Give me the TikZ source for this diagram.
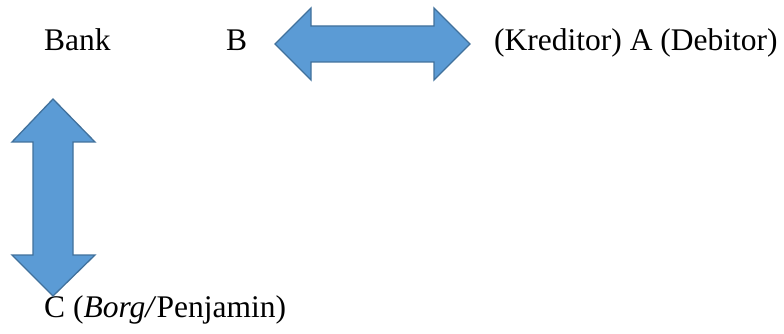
\documentclass[tikz,border=0pt]{standalone}
\usepackage{fontspec}
\setmainfont{Liberation Serif}
\definecolor{arrfill}{HTML}{5B9BD5}
\definecolor{arrline}{HTML}{41719C}
\begin{document}
\begin{tikzpicture}[x=1pt,y=-1pt,
  bigarrow/.style={fill=arrfill,draw=arrline,line width=1.3pt,line join=miter},
  lbl/.style={anchor=base west,inner sep=0pt,font=\fontsize{31.5}{37}\selectfont}]
\useasboundingbox (0,0) rectangle (784,334);
\node[lbl] (bank) at (44,51) {Bank};
\node[lbl] (b) at (226,51) {B};
\node[lbl] (a) at (494,51) {(Kreditor) A (Debitor)};
\node[lbl] (c) at (44,317) {C (\textit{Borg/}Penjamin)};
\draw[bigarrow] (275,44) -- (311,8) -- (311,26) -- (434,26) -- (434,8) -- (470,44)
  -- (434,80) -- (434,62) -- (311,62) -- (311,80) -- cycle;
\draw[bigarrow] (53,99) -- (95,142) -- (73,142) -- (73,255) -- (95,255) -- (53,296)
  -- (12,255) -- (33,255) -- (33,142) -- (12,142) -- cycle;
\end{tikzpicture}
\end{document}
